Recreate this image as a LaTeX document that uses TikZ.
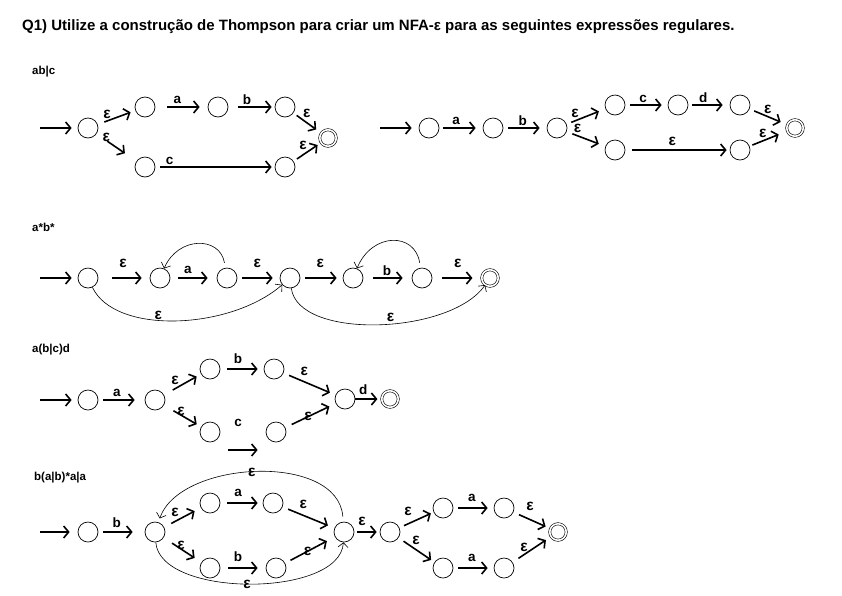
\documentclass[tikz,border=0pt]{standalone}
\usepackage{fontspec}
\setmainfont{Liberation Sans}
\usetikzlibrary{arrows.meta}

\begin{document}
\begin{tikzpicture}[x=1pt, y=-1pt,
  state/.style={circle, draw, line width=0.7pt, minimum size=20pt, inner sep=0pt},
  final/.style={state, double, double distance=1.6pt, line width=0.6pt, minimum size=16.5pt},
  trans/.style={-{Straight Barb[length=5pt,width=12pt]}, line width=1.6pt},
  back/.style={-{Straight Barb[length=4.5pt,width=10pt]}, line width=0.6pt},
  lbl/.style={font=\bfseries\fontsize{13.5}{14}\selectfont, inner sep=1pt},
  elbl/.style={font=\bfseries\fontsize{15.5}{16}\selectfont, inner sep=0.5pt},
  expr/.style={font=\bfseries\fontsize{11.5}{13}\selectfont, anchor=west, inner sep=0pt},
  title/.style={font=\bfseries\fontsize{15}{17}\selectfont, anchor=west, inner sep=0pt}
]
  \path[use as bounding box, fill=white] (0,0) rectangle (842,595);

  \node[title] (ttl) at (22,27) {Q1) Utilize a construção de Thompson para criar um NFA-ε para as seguintes expressões regulares.};

  % ab|c
  \node[expr] (e1) at (32,72) {ab|c};
  \coordinate (q0in) at (40,128);
  \node[state] (q0) at (88,128) {};
  \node[state] (q1) at (145,107) {};
  \node[state] (q2) at (218,107) {};
  \node[state] (q3) at (285,107) {};
  \node[state] (q4) at (145,167) {};
  \node[state] (q5) at (285,167) {};
  \node[final] (qf) at (328,138) {};

  \draw[trans, shorten >=6pt] (q0in) -- (q0);
  \draw[trans, shorten <=7pt, shorten >=5pt] (q0) -- (q1) node[elbl, pos=.25, above=1pt] {ε};
  \draw[trans, shorten <=12pt, shorten >=8pt] (q1) -- (q2) node[lbl, pos=.42, above=2pt] {a};
  \draw[trans, shorten <=10pt, shorten >=3pt] (q2) -- (q3) node[lbl, pos=.4, above=1pt] {b};
  \draw[trans, shorten <=4pt, shorten >=6pt] (q3) -- (qf) node[elbl, pos=.3, above right=0pt] {ε};
  \draw[trans, shorten <=13pt, shorten >=14pt] (q0) -- (q4) node[elbl, pos=.12, right] {ε};
  \draw[trans, shorten <=5pt, shorten >=3pt] (q4) -- (q5) node[lbl, pos=.12, above=1pt] {c};
  \draw[trans, shorten <=4pt, shorten >=4pt] (q5) -- (qf) node[elbl, pos=.35, above=4pt] {ε};

  % abc|d
  \coordinate (p0in) at (380,128);
  \node[state] (p0) at (429,128) {};
  \node[state] (p1) at (493,128) {};
  \node[state] (p2) at (557,128) {};
  \node[state] (p3) at (615,105) {};
  \node[state] (p4) at (678,105) {};
  \node[state] (p5) at (740,105) {};
  \node[state] (p6) at (615,150) {};
  \node[state] (p7) at (740,150) {};
  \node[final] (pf) at (795,128) {};

  \draw[trans, shorten >=7pt] (p0in) -- (p0);
  \draw[trans, shorten <=4pt, shorten >=7pt] (p0) -- (p1) node[lbl, pos=.39, above=2pt] {a};
  \draw[trans, shorten <=5pt, shorten >=7pt] (p1) -- (p2) node[lbl, pos=.45, above=1pt] {b};
  \draw[trans, shorten <=5pt, shorten >=7pt] (p2) -- (p3) node[elbl, pos=.22, above=2pt] {ε};
  \draw[trans, shorten <=6pt, shorten >=7pt] (p2) -- (p6) node[elbl, pos=.15, above right=0pt] {ε};
  \draw[trans, shorten <=5pt, shorten >=6pt] (p3) -- (p4) node[lbl, pos=.42, above=1pt] {c};
  \draw[trans, shorten <=4pt, shorten >=7pt] (p4) -- (p5) node[lbl, pos=.36, above=1pt] {d};
  \draw[trans, shorten <=5pt, shorten >=7pt] (p5) -- (pf) node[elbl, pos=.35, above right=0pt] {ε};
  \draw[trans, shorten <=7pt, shorten >=3pt] (p6) -- (p7) node[elbl, pos=.45, above=3pt] {ε};
  \draw[trans, shorten <=3pt, shorten >=9pt] (p7) -- (pf) node[elbl, pos=.35, above=2pt] {ε};

  % a*b*
  \node[expr] (e2) at (32,227) {a*b*};
  \coordinate (s0in) at (40,278);
  \node[state] (s0) at (88,278) {};
  \node[state] (s1) at (160,278) {};
  \node[state] (s2) at (227,278) {};
  \node[state] (s3) at (290,278) {};
  \node[state] (s4) at (353,278) {};
  \node[state] (s5) at (422,278) {};
  \node[final] (sf) at (490,278) {};

  \draw[trans, shorten >=6pt] (s0in) -- (s0);
  \draw[trans, shorten <=14pt, shorten >=8pt] (s0) -- (s1) node[elbl, pos=.48, above=9pt] {ε};
  \draw[trans, shorten <=8pt, shorten >=9pt] (s1) -- (s2) node[lbl, pos=.38, above=3pt] {a};
  \draw[trans, shorten <=5pt, shorten >=7pt] (s2) -- (s3) node[elbl, pos=.47, above=9pt] {ε};
  \draw[trans, shorten <=5pt, shorten >=6pt] (s3) -- (s4) node[elbl, pos=.47, above=9pt] {ε};
  \draw[trans, shorten <=10pt, shorten >=9pt] (s4) -- (s5) node[lbl, pos=.49, above=1pt] {b};
  \draw[trans, shorten <=10pt, shorten >=9pt] (s5) -- (sf) node[elbl, pos=.52, above=9pt] {ε};
  \draw[back, shorten <=5pt] (s2) .. controls (220,236) and (178,236) .. (s1);
  \draw[back, shorten <=5pt] (s5) .. controls (415,232) and (372,232) .. (s4);
  \draw[back] (s0) .. controls (115,335) and (230,330) .. (s3) node[elbl, pos=.42, above=0pt] {ε};
  \draw[back] (s3) .. controls (298,340) and (450,335) .. (sf) node[elbl, pos=.55, above=2pt] {ε};

  % a(b|c)d
  \node[expr] (e3) at (32,350) {a(b|c)d};
  \coordinate (t0in) at (40,400);
  \node[state] (t0) at (88,400) {};
  \node[state] (t1) at (155,400) {};
  \node[state] (t2) at (210,369) {};
  \node[state] (t3) at (274,369) {};
  \node[state] (t4) at (210,432) {};
  \node[state] (t5) at (276,432) {};
  \node[state] (t6) at (345,399) {};
  \node[final] (tf) at (390,399) {};

  \draw[trans, shorten >=6pt] (t0in) -- (t0);
  \draw[trans, shorten <=5pt, shorten >=10pt] (t0) -- (t1) node[lbl, pos=.4, above=2pt] {a};
  \draw[trans, shorten <=10pt, shorten >=5pt] (t1) -- (t2) node[elbl, pos=.3, above=3pt] {ε};
  \draw[trans, shorten <=11pt, shorten >=5pt] (t1) -- (t4) node[elbl, pos=.3, right=1pt] {ε};
  \draw[trans, shorten <=7pt, shorten >=6pt] (t2) -- (t3) node[lbl, pos=.41, above=4pt] {b};
  \draw[trans, shorten <=6pt, shorten >=6pt] (t3) -- (t6) node[elbl, pos=.4, above=5pt] {ε};
  \draw[trans, shorten <=8pt, shorten >=8pt] ([yshift=-18pt]t4.east) -- ([yshift=-18pt]t5.west) node[lbl, pos=.39, above=22pt] {c};
  \draw[trans, shorten <=7pt, shorten >=7pt] (t5) -- (t6) node[elbl, pos=.45] {ε};
  \draw[trans, shorten >=4pt] (t6) -- (tf) node[lbl, pos=.3, above=3pt] {d};

  % b(a|b)*a|a
  \node[expr] (e4) at (34,478) {b(a|b)*a|a};
  \coordinate (u0in) at (40,532);
  \node[state] (u0) at (88,532) {};
  \node[state] (u1) at (155,532) {};
  \node[state] (u2) at (210,503) {};
  \node[state] (u3) at (273,503) {};
  \node[state] (u4) at (210,568) {};
  \node[state] (u5) at (276,568) {};
  \node[state] (u6) at (344,532) {};
  \node[state] (u7) at (390,532) {};
  \node[state] (u8) at (443,508) {};
  \node[state] (u9) at (504,508) {};
  \node[state] (u10) at (443,568) {};
  \node[state] (u11) at (504,568) {};
  \node[final] (uf) at (558,532) {};

  \draw[trans, shorten >=8pt] (u0in) -- (u0);
  \draw[trans, shorten <=5pt, shorten >=12pt] (u0) -- (u1) node[lbl, pos=.4, above=3pt] {b};
  \draw[trans, shorten <=8pt, shorten >=7pt] (u1) -- (u2) node[elbl, pos=.3, above=3pt] {ε};
  \draw[trans, shorten <=10pt, shorten >=8pt] (u1) -- (u4) node[elbl, pos=.3, right=1pt] {ε};
  \draw[trans, shorten <=7pt, shorten >=5pt] (u2) -- (u3) node[lbl, pos=.42, above=5pt] {a};
  \draw[trans, shorten <=6pt, shorten >=7pt] (u3) -- (u6) node[elbl, pos=.4, above=5pt] {ε};
  \draw[trans, shorten <=8pt, shorten >=8pt] (u4) -- (u5) node[lbl, pos=.39, above=5pt] {b};
  \draw[trans, shorten <=6pt, shorten >=9pt] (u5) -- (u6) node[elbl, pos=.45] {ε};
  \draw[back, shorten <=5pt, shorten >=4pt] (u6) .. controls (338,452) and (180,460) .. (u1) node[elbl, pos=.52] {ε};
  \draw[back] (u1) .. controls (160,598) and (340,598) .. (u6) node[elbl, pos=.49] {ε};
  \draw[trans, shorten <=3pt, shorten >=3pt] (u6) -- (u7) node[elbl, pos=.3, above=5pt] {ε};
  \draw[trans, shorten <=5pt, shorten >=3pt] (u7) -- (u8) node[elbl, pos=.25, above=7pt] {ε};
  \draw[trans, shorten <=6pt, shorten >=4pt] (u7) -- (u10) node[elbl, pos=.35, above right=0pt] {ε};
  \draw[trans, shorten <=5pt, shorten >=6pt] (u8) -- (u9) node[lbl, pos=.46, above=5pt] {a};
  \draw[trans, shorten <=5pt, shorten >=6pt] (u10) -- (u11) node[lbl, pos=.46, above=5pt] {a};
  \draw[trans, shorten <=6pt, shorten >=5pt] (u9) -- (uf) node[elbl, pos=.45, above=8pt] {ε};
  \draw[trans, shorten <=7pt, shorten >=6pt] (u11) -- (uf) node[elbl, pos=.3, above=2pt] {ε};
\end{tikzpicture}
\end{document}
